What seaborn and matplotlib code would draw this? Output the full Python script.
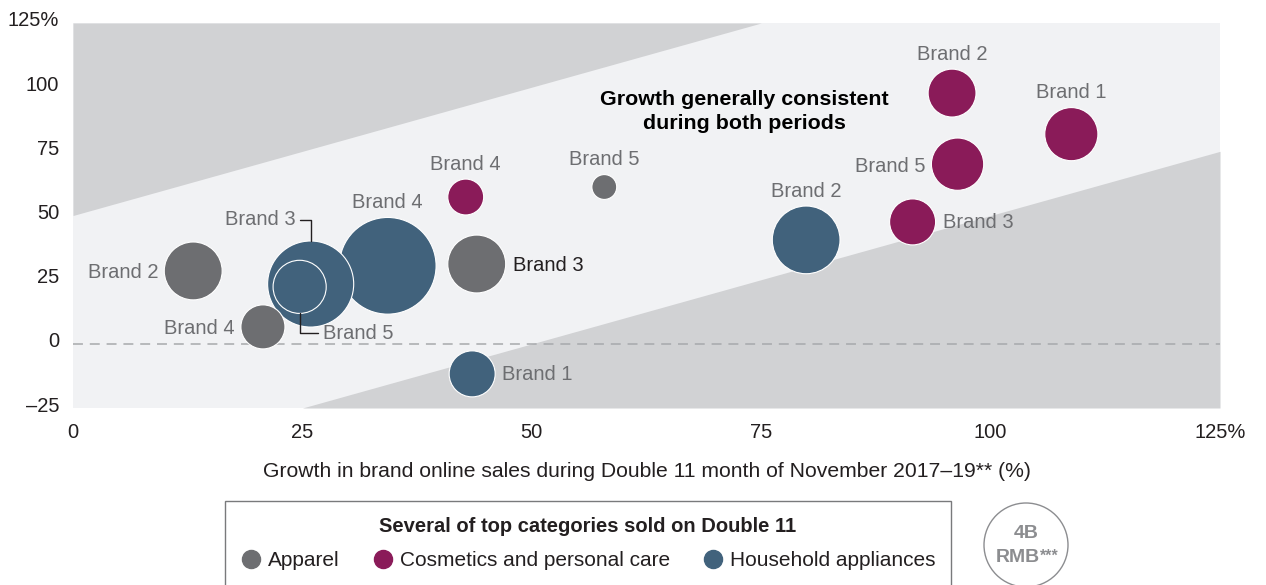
import numpy as np
import pandas as pd
import matplotlib
matplotlib.use("Agg")
import matplotlib.pyplot as plt
import matplotlib.transforms as mtransforms
from matplotlib.lines import Line2D
import seaborn as sns

sns.set_theme(style="white")
plt.rcParams["font.family"] = ["Liberation Sans", "DejaVu Sans"]

# ---- data -------------------------------------------------------------
categories = ["Apparel", "Cosmetics and personal care", "Household appliances"]
category = (["Household appliances"] * 5 + ["Apparel"] * 4
            + ["Cosmetics and personal care"] * 5)
brand = ["Brand 4", "Brand 3", "Brand 5", "Brand 2", "Brand 1",
         "Brand 2", "Brand 4", "Brand 3", "Brand 5",
         "Brand 4", "Brand 2", "Brand 1", "Brand 5", "Brand 3"]
# growth in online sales during the November month, 2017-19 (%)
month_growth = [34.3, 25.9, 24.7, 79.9, 43.5,
                13.1, 20.7, 44.0, 57.9,
                42.8, 95.8, 108.8, 96.4, 91.5]
# growth in online sales on Double 11 day, 2017-19 (%)
day_growth = [30.4, 23.3, 22.2, 40.5, -11.7,
              28.4, 6.6, 31.1, 61.1,
              57.2, 97.7, 81.7, 70.0, 47.5]
# sales volume, billion RMB
sales_bn = [5.3, 4.2, 1.6, 2.6, 1.2,
            1.9, 1.1, 1.9, 0.35,
            0.73, 1.3, 1.6, 1.55, 1.2]
x_ticks = [0, 25, 50, 75, 100, 125]
x_tick_labels = ["0", "25", "50", "75", "100", "125%"]
y_ticks = [-25, 0, 25, 50, 75, 100, 125]
y_tick_labels = ["\u201325", "0", "25", "50", "75", "100", "125%"]
reference_bn = 4
band_halfwidth = 50

df = pd.DataFrame({"category": category, "brand": brand,
                   "month_growth": month_growth, "day_growth": day_growth,
                   "sales_bn": sales_bn})

# ---- styling ----------------------------------------------------------
palette = {"Apparel": "#6d6e71",
           "Cosmetics and personal care": "#8a1b59",
           "Household appliances": "#41627c"}
BAND_DARK = "#d1d2d4"
BAND_LIGHT = "#f1f2f4"
LABEL_GREY = "#6d6e71"
INK = "#231f20"
KEY_GREY = "#8c8d90"
FS = 14.5
PX = 0.72  # points per pixel at 100 dpi

# bubble area (pt^2) of the reference sales volume; area is proportional to sales
REF_AREA = (84 * PX) ** 2


def area(v):
    return v / reference_bn * REF_AREA


def radius_pt(v):
    return np.sqrt(area(v)) / 2


fig = plt.figure(figsize=(12.66, 5.85), dpi=100)
ax = fig.add_axes([73 / 1266, 1 - 408 / 585, (1220 - 73) / 1266, (408 - 23) / 585])
ax.set_facecolor(BAND_LIGHT)
ax.set_xlim(0, 125)
ax.set_ylim(-25, 125)

# shaded zones outside the "consistent growth" band
xs = np.linspace(0, 125, 1001)
ax.fill_between(xs, np.minimum(xs + band_halfwidth, 125), 125,
                color=BAND_DARK, lw=0, zorder=0)
ax.fill_between(xs, -25, np.maximum(xs - band_halfwidth, -25),
                color=BAND_DARK, lw=0, zorder=0)
ax.axhline(0, color="#a7a9ac", lw=1.1, ls=(0, (6.5, 4.5)), zorder=1)

max_sales = max(sales_bn)
sns.scatterplot(data=df, x="month_growth", y="day_growth",
                hue="category", hue_order=categories, palette=palette,
                size="sales_bn", sizes=(0, area(max_sales)), size_norm=(0, max_sales),
                edgecolor="white", linewidth=0.8, alpha=1, legend=False,
                ax=ax, zorder=3)

for s in ax.spines.values():
    s.set_visible(False)
ax.set_xticks(x_ticks, x_tick_labels)
ax.set_yticks(y_ticks, y_tick_labels)
ax.tick_params(length=0, labelsize=FS, colors=INK)
ax.tick_params(axis="x", pad=11)
ax.tick_params(axis="y", pad=10)
lift = mtransforms.ScaledTranslation(0, 4 / 100, fig.dpi_scale_trans)
for lab in ax.get_yticklabels():
    lab.set_transform(lab.get_transform() + lift)
ax.set_xlabel("Growth in brand online sales during Double 11 month of November 2017\u201319** (%)",
              fontsize=15.2, color=INK, labelpad=14)
ax.set_ylabel("")

# ---- bubble labels ----------------------------------------------------
placement = {
    ("Apparel", "Brand 2"): "left", ("Apparel", "Brand 4"): "left",
    ("Apparel", "Brand 3"): "right", ("Apparel", "Brand 5"): "above",
    ("Cosmetics and personal care", "Brand 4"): "above",
    ("Cosmetics and personal care", "Brand 2"): "above",
    ("Cosmetics and personal care", "Brand 1"): "above",
    ("Cosmetics and personal care", "Brand 5"): "left",
    ("Cosmetics and personal care", "Brand 3"): "right",
    ("Household appliances", "Brand 4"): "above",
    ("Household appliances", "Brand 2"): "above",
    ("Household appliances", "Brand 1"): "right",
    ("Household appliances", "Brand 3"): "leader_up",
    ("Household appliances", "Brand 5"): "leader_down",
}
for _, row in df.iterrows():
    side = placement[(row["category"], row["brand"])]
    r = radius_pt(row["sales_bn"])
    xy = (row["month_growth"], row["day_growth"])
    color = INK if (row["category"], row["brand"]) == ("Apparel", "Brand 3") else LABEL_GREY
    kw = dict(xy=xy, textcoords="offset points", fontsize=FS, color=color, zorder=5)
    if side == "above":
        ax.annotate(row["brand"], xytext=(0, r + 15 * PX), ha="center", va="center", **kw)
    elif side == "left":
        ax.annotate(row["brand"], xytext=(-r - 6 * PX, -2 * PX), ha="right", va="center", **kw)
    elif side == "right":
        ax.annotate(row["brand"], xytext=(r + 7 * PX, -1 * PX), ha="left", va="center", **kw)
    elif side == "leader_up":
        top = mtransforms.offset_copy(ax.transData, fig=fig, x=0, y=r, units="points")
        ax.annotate(row["brand"], xy=xy, xycoords=top,
                    xytext=(-15 * PX, 21 * PX), textcoords="offset points",
                    ha="right", va="center", fontsize=FS, color=LABEL_GREY, zorder=5,
                    arrowprops=dict(arrowstyle="-", color=INK, lw=1,
                                    connectionstyle="angle,angleA=0,angleB=90,rad=0",
                                    relpos=(1, 0.5), shrinkA=1, shrinkB=0))
    elif side == "leader_down":
        bottom = mtransforms.offset_copy(ax.transData, fig=fig, x=0, y=-r, units="points")
        ax.annotate(row["brand"], xy=xy, xycoords=bottom,
                    xytext=(23 * PX, -20 * PX), textcoords="offset points",
                    ha="left", va="center", fontsize=FS, color=LABEL_GREY, zorder=5,
                    arrowprops=dict(arrowstyle="-", color=INK, lw=1,
                                    connectionstyle="angle,angleA=0,angleB=90,rad=0",
                                    relpos=(0, 0.5), shrinkA=1, shrinkB=0))

ax.text(73.2, 90.5, "Growth generally consistent\nduring both periods",
        ha="center", va="center", fontsize=15.4, fontweight="bold", color="black",
        linespacing=1.35, zorder=5)

# ---- legend ------------------------------------------------------------
handles = [Line2D([], [], marker="o", ls="", markersize=13,
                  markerfacecolor=palette[c], markeredgecolor=palette[c])
           for c in categories]
leg = fig.legend(handles, categories, loc="upper center",
                 bbox_to_anchor=(588 / 1266, 1 - 501 / 585), ncol=3,
                 title="Several of top categories sold on Double 11",
                 title_fontproperties={"weight": "bold", "size": FS},
                 fontsize=15, frameon=True, fancybox=False, borderpad=0.75,
                 handletextpad=0.3, columnspacing=1.6, handlelength=1.0,
                 labelspacing=0.75, borderaxespad=0)
leg.get_frame().set_edgecolor("#58595b")
leg.get_frame().set_linewidth(1.0)
for t in leg.get_texts():
    t.set_color(INK)
leg.get_title().set_color(INK)

# ---- size reference bubble ----------------------------------------------
kax = fig.add_axes([(1026 - 60) / 1266, 1 - (545 + 60) / 585, 120 / 1266, 120 / 585])
kax.set_xlim(-1, 1)
kax.set_ylim(-1, 1)
kax.axis("off")
kax.scatter([0], [0], s=area(reference_bn), facecolors="none",
            edgecolors=KEY_GREY, linewidths=1.0, clip_on=False)
kax.text(0, 0.2, f"{reference_bn}B", ha="center", va="center",
         fontsize=14, fontweight="bold", color=KEY_GREY)
rmb = kax.text(-0.14, -0.2, "RMB", ha="center", va="center",
               fontsize=14, fontweight="bold", color=KEY_GREY)
kax.annotate("***", xy=(1, 1), xycoords=rmb, xytext=(0.5, 0),
             textcoords="offset points", ha="left", va="top",
             fontsize=11.5, fontweight="bold", color=KEY_GREY)

fig.savefig("out.png", dpi=100)
